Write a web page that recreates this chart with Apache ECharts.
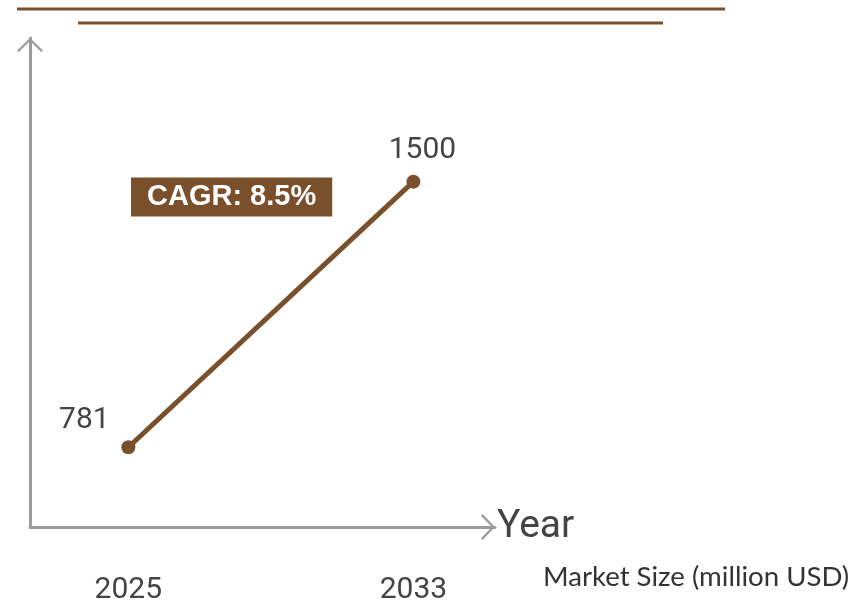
<!DOCTYPE html>
<html>
<head>
<meta charset="utf-8">
<script src="https://cdn.jsdelivr.net/npm/echarts@6/dist/echarts.min.js"></script>
<style>
  html, body { margin: 0; padding: 0; background: #fff; }
  #chart { width: 856px; height: 605px; }
</style>
</head>
<body>
<div id="chart"></div>
<script>
// Market size data
const years = [2025, 2033];
const marketSize = [781, 1500];
const seriesName = 'Market Size (million USD)';
const cagrText = 'CAGR: 8.5%';
const xAxisName = 'Year';

const brown = '#7a4f2b';
const axisGrey = '#9b9b9b';

// open chevron used as the axis arrow head (points up, rotated by ECharts)
const chevron = 'path://M50,0 L100,48 L93,54 L50,12 L7,54 L0,48 Z';

const chart = echarts.init(document.getElementById('chart'), null, { renderer: 'canvas' });

chart.setOption({
  animation: false,
  backgroundColor: '#ffffff',
  title: {
    text: cagrText,
    left: 131,
    top: 178,
    padding: [5, 16, 5, 16],
    backgroundColor: brown,
    textStyle: {
      color: '#ffffff',
      fontSize: 29,
      fontWeight: 'bold',
      fontFamily: 'Liberation Sans, Arial, sans-serif',
      lineHeight: 28
    }
  },
  legend: {
    data: [seriesName],
    left: 537,
    top: 563,
    padding: 0,
    itemWidth: 0,
    itemHeight: 0,
    itemGap: 0,
    selectedMode: false,
    textStyle: {
      color: '#333333',
      fontSize: 27.6,
      fontFamily: 'Lato, sans-serif'
    }
  },
  grid: { left: 30, right: 361, top: 38, bottom: 76, containLabel: false },
  xAxis: {
    type: 'value',
    min: 2022.24,
    max: 2035.29,
    name: xAxisName,
    nameLocation: 'end',
    nameGap: 2,
    nameTextStyle: {
      color: '#444444',
      fontSize: 39,
      fontFamily: 'Roboto, sans-serif',
      verticalAlign: 'middle'
    },
    axisLine: {
      show: true,
      symbol: ['none', chevron],
      symbolSize: [26, 14],
      symbolOffset: [0, -7],
      lineStyle: { color: axisGrey, width: 3 }
    },
    axisTick: { show: false },
    splitLine: { show: false },
    axisLabel: {
      customValues: years,
      margin: 48,
      color: '#444444',
      fontSize: 30,
      fontFamily: 'Roboto, sans-serif',
      formatter: (v) => String(v)
    }
  },
  yAxis: {
    type: 'value',
    min: 565,
    max: 1889,
    axisLine: {
      show: true,
      symbol: ['none', chevron],
      symbolSize: [26, 14],
      symbolOffset: [0, -7],
      lineStyle: { color: axisGrey, width: 3 }
    },
    axisTick: { show: false },
    axisLabel: { show: false },
    splitLine: { show: false }
  },
  series: [{
    name: seriesName,
    type: 'line',
    data: years.map((y, i) => [y, marketSize[i]]),
    symbol: 'circle',
    symbolSize: 14,
    lineStyle: { color: brown, width: 5 },
    itemStyle: { color: brown },
    label: {
      show: true,
      position: 'top',
      color: '#444444',
      fontSize: 30,
      fontFamily: 'Roboto, sans-serif',
      formatter: (p) => String(p.value[1])
    },
    labelLayout: (params) => {
      return params.dataIndex === 0
        ? { dx: -44, dy: 0 }
        : { dx: 9, dy: -4 };
    }
  }],
  graphic: [
    {
      type: 'line',
      shape: { x1: 17, y1: 9, x2: 725, y2: 9 },
      style: { stroke: brown, lineWidth: 3 }
    },
    {
      type: 'line',
      shape: { x1: 78, y1: 23, x2: 663, y2: 23 },
      style: { stroke: brown, lineWidth: 3 }
    }
  ]
});
</script>
</body>
</html>
